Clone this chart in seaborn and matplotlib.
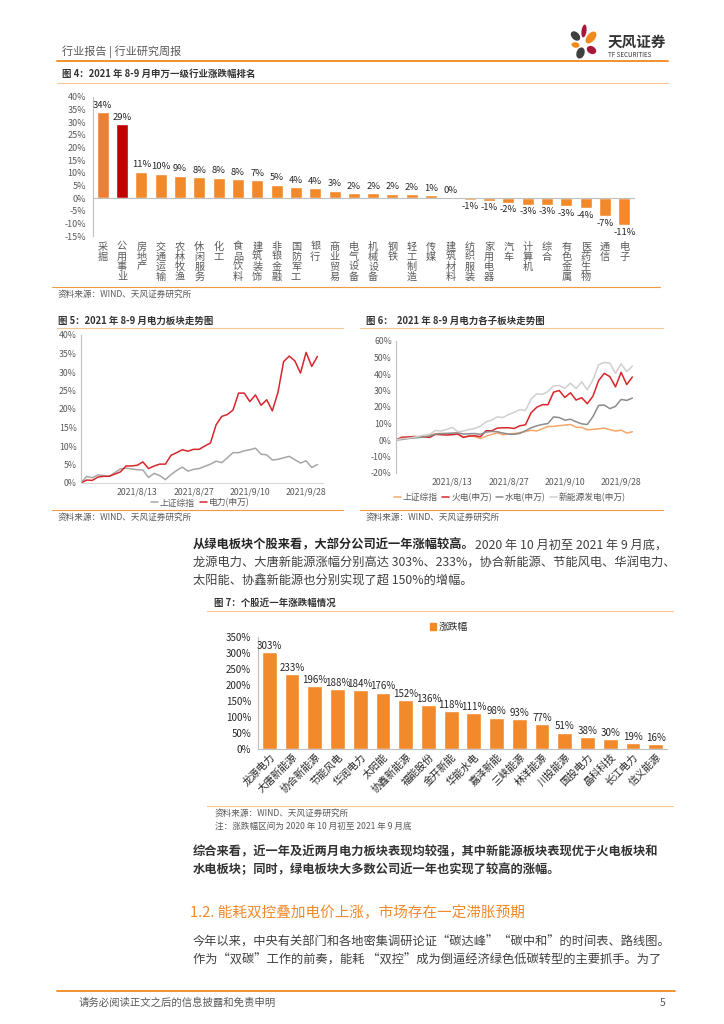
"""Rebuild a report page: industry ranking, power sector trends and stock gains."""

import matplotlib

matplotlib.use("Agg")

import matplotlib.pyplot as plt
import numpy as np
import pandas as pd
import seaborn as sns
from matplotlib.lines import Line2D
from matplotlib.patches import Ellipse, Patch

W, H = 724, 1024

ORANGE = "#F28A2B"
ORANGE_FIRST = "#EC7E36"
DARK_RED = "#C00000"
LINE_ORANGE = "#F39A3E"
LIGHT_LINE = "#F8C597"
TEXT = "#404040"
GREY = "#595959"
AXIS = "#BFBFBF"

# fig 4: Shenwan level-1 industries, Aug-Sep 2021
INDUSTRIES = [
    "采掘", "公用事业", "房地产", "交通运输", "农林牧渔", "休闲服务", "化工",
    "食品饮料", "建筑装饰", "非银金融", "国防军工", "银行", "商业贸易", "电气设备",
    "机械设备", "钢铁", "轻工制造", "传媒", "建筑材料", "纺织服装", "家用电器",
    "汽车", "计算机", "综合", "有色金属", "医药生物", "通信", "电子",
]
INDUSTRY_CHANGE = [
    34.0, 29.3, 10.5, 9.7, 8.9, 8.3, 8.1, 7.6, 7.2, 5.3, 4.3, 3.8, 2.9, 2.1,
    1.9, 1.8, 1.7, 1.2, 0.4, -0.7, -1.0, -1.8, -2.8, -2.8, -3.3, -4.1, -7.2, -10.8,
]
INDUSTRY_TEXT = [
    "34%", "29%", "11%", "10%", "9%", "8%", "8%", "8%", "7%", "5%", "4%", "4%",
    "3%", "2%", "2%", "2%", "2%", "1%", "0%", "-1%", "-1%", "-2%", "-3%", "-3%",
    "-3%", "-4%", "-7%", "-11%",
]

# fig 5 / fig 6: cumulative change since 2021/7/30, one value per trading day
TICK_POS = [10, 20, 30, 40]
TICK_DATES = ["2021/8/13", "2021/8/27", "2021/9/10", "2021/9/28"]
SH_INDEX = [
    0.0, 1.8, 1.4, 2.2, 2.0, 1.8, 2.8, 3.8, 4.0, 3.8, 3.6, 3.5, 1.5, 2.6, 2.0,
    0.9, 2.3, 3.4, 4.3, 3.2, 3.7, 3.9, 4.5, 5.1, 5.9, 5.5, 6.8, 8.2, 8.2, 8.7,
    9.0, 9.4, 7.8, 7.6, 6.2, 6.4, 6.8, 7.2, 6.3, 5.4, 6.0, 4.2, 5.0,
]
POWER = [
    0.0, 0.8, 0.7, 1.6, 1.8, 1.8, 2.4, 3.0, 4.6, 4.6, 4.8, 5.7, 3.9, 4.6, 5.1,
    5.1, 7.5, 8.2, 9.0, 8.6, 9.1, 9.1, 10.0, 10.8, 15.7, 18.0, 18.5, 19.7, 24.3,
    24.3, 22.0, 23.8, 21.0, 22.5, 19.5, 24.5, 32.8, 34.3, 33.0, 29.7, 35.3, 31.5, 34.2,
]
THERMAL = [
    0.0, 1.5, 1.8, 2.0, 2.0, 1.8, 1.6, 3.4, 3.2, 3.0, 3.2, 3.6, 1.6, 2.4, 2.6,
    2.0, 5.6, 5.6, 7.2, 7.4, 7.4, 7.0, 8.6, 9.2, 16.5, 19.8, 21.4, 21.4, 29.0,
    30.0, 25.8, 28.6, 24.2, 25.6, 22.0, 26.6, 36.0, 40.4, 38.4, 32.2, 41.0, 33.6, 38.2,
]
HYDRO = [
    0.0, 0.3, 0.8, 1.2, 1.5, 1.8, 2.5, 3.5, 3.8, 4.0, 4.2, 4.4, 3.6, 3.8, 3.9,
    3.4, 4.8, 5.2, 5.0, 4.2, 3.6, 3.4, 4.0, 5.6, 7.4, 8.6, 9.4, 10.0, 14.0,
    13.6, 12.0, 12.6, 11.0, 9.8, 9.4, 14.2, 21.0, 21.2, 19.0, 20.4, 24.6, 24.0, 25.4,
]
NEW_ENERGY = [
    0.0, 0.8, 1.0, 1.6, 2.2, 3.0, 3.4, 5.8, 5.4, 6.4, 7.6, 5.0, 5.4, 6.4, 7.0,
    8.4, 11.0, 12.0, 14.0, 13.6, 15.4, 16.8, 18.4, 17.8, 24.8, 28.0, 27.6, 29.4,
    32.8, 33.0, 31.4, 34.4, 31.2, 35.2, 30.4, 36.4, 45.6, 47.0, 46.6, 40.4, 46.2,
    41.4, 44.8,
]

# fig 7: one-year change of green power stocks
STOCKS = [
    "龙源电力", "大唐新能源", "协合新能源", "节能风电", "华润电力", "太阳能",
    "协鑫新能源", "福能股份", "金开新能", "华能水电", "嘉泽新能", "三峡能源",
    "林洋能源", "川投能源", "国投电力", "晶科科技", "长江电力", "信义能源",
]
STOCK_CHANGE = [303, 233, 196, 188, 184, 176, 152, 136, 118, 111, 98, 93, 77, 51, 38, 30, 19, 16]


def ax_at(fig, left, top, right, bottom):
    return fig.add_axes([left / W, 1 - bottom / H, (right - left) / W, (bottom - top) / H])


def txt(fig, x, y, s, **kw):
    kw.setdefault("va", "center")
    kw.setdefault("color", TEXT)
    return fig.text(x / W, 1 - y / H, s, **kw)


def hline(fig, x0, x1, y, color=LINE_ORANGE, lw=0.8):
    fig.add_artist(Line2D([x0 / W, x1 / W], [1 - y / H, 1 - y / H], color=color, lw=lw))


def run_text(fig, x, y, parts, size):
    # write pieces of one line after each other (mixed bold / regular)
    renderer = fig.canvas.get_renderer()
    for s, weight, color in parts:
        t = txt(fig, x, y, s, fontsize=size, fontweight=weight, color=color)
        x += t.get_window_extent(renderer).width


def pct(ax):
    ax.yaxis.set_major_formatter(matplotlib.ticker.FuncFormatter(lambda v, _: f"{v:.0f}%"))


def draw_logo(fig):
    ax = ax_at(fig, 566, 22, 604, 60)
    ax.set_xlim(0, 38)
    ax.set_ylim(38, 0)
    ax.set_axis_off()
    petals = [
        (18.0, 9.0, 5.0, 13, 8, "#A8163A"),
        (25.0, 15.5, 8.0, 14, 40, "#EF8A1E"),
        (9.5, 14.0, 7.5, 11, -45, "#404040"),
        (9.5, 23.0, 8.0, 5.5, 10, "#EF8A1E"),
        (25.5, 28.0, 10.0, 7.5, 30, "#A8163A"),
        (14.5, 31.0, 8.0, 11.5, 20, "#404040"),
    ]
    for x, y, w, h, ang, c in petals:
        ax.add_patch(Ellipse((x, y), w, h, angle=ang, color=c, lw=0))


def plot_industry(fig):
    ax = ax_at(fig, 93, 97, 634, 236)
    df = pd.DataFrame({"industry": INDUSTRIES, "change": INDUSTRY_CHANGE})
    colors = [ORANGE_FIRST, DARK_RED] + [ORANGE] * (len(INDUSTRIES) - 2)
    sns.barplot(data=df, x="industry", y="change", hue="industry", palette=colors,
                legend=False, width=0.62, saturation=1, ax=ax)
    ax.set_ylim(-15, 40)
    ax.set_xlim(-0.5, len(INDUSTRIES) - 0.5)
    ax.set_yticks(np.arange(-15, 41, 5))
    pct(ax)
    ax.set_xlabel("")
    ax.set_ylabel("")
    for side in ("top", "right"):
        ax.spines[side].set_visible(False)
    ax.spines["bottom"].set_position(("data", 0))
    for side in ("left", "bottom"):
        ax.spines[side].set_color(AXIS)
        ax.spines[side].set_linewidth(0.8)
    ax.set_xticks([])
    ax.set_xticks(np.arange(-0.5, len(INDUSTRIES), 1), minor=True)
    ax.tick_params(axis="x", which="minor", length=3, color=AXIS, direction="out")
    ax.tick_params(axis="y", length=3, color=AXIS, labelsize=6.5, labelcolor=GREY, pad=2)
    for i, (v, s) in enumerate(zip(INDUSTRY_CHANGE, INDUSTRY_TEXT)):
        if v >= 0:
            ax.text(i, v + 0.9, s, ha="center", va="bottom", fontsize=6.8, color="#262626")
        else:
            ax.text(i, v - 0.9, s, ha="center", va="top", fontsize=6.8, color="#262626")
    tr = ax.get_xaxis_transform()
    for i, name in enumerate(INDUSTRIES):
        ax.text(i, -0.04, "\n".join(name), transform=tr, ha="center", va="top",
                fontsize=7.3, color=GREY, linespacing=1.0)


def style_line_axes(ax, ylim, yticks):
    ax.set_ylim(*ylim)
    ax.set_xlim(0, 43)
    ax.set_yticks(yticks)
    pct(ax)
    ax.set_xticks(TICK_POS)
    ax.set_xticklabels(TICK_DATES)
    ax.set_xlabel("")
    ax.set_ylabel("")
    for side in ("top", "right"):
        ax.spines[side].set_visible(False)
    ax.spines["left"].set_color(AXIS)
    ax.spines["left"].set_linewidth(0.8)
    ax.tick_params(axis="both", length=0, labelsize=6.3, labelcolor=GREY, pad=3)


def plot_power(fig):
    ax = ax_at(fig, 81, 335, 323, 483)
    df = pd.DataFrame({"day": np.arange(len(SH_INDEX)), "上证综指": SH_INDEX, "电力(申万)": POWER})
    df = df.melt(id_vars="day", var_name="series", value_name="value")
    sns.lineplot(data=df, x="day", y="value", hue="series",
                 palette=["#A6A6A6", "#D7262B"], linewidth=1.1, ax=ax)
    style_line_axes(ax, (0, 40), np.arange(0, 41, 5))
    ax.spines["bottom"].set_color("#D9D9D9")
    ax.spines["bottom"].set_linewidth(0.8)
    handles, labels = ax.get_legend_handles_labels()
    ax.legend(handles, labels, loc="center", bbox_to_anchor=(200 / W, 1 - 503 / H),
              bbox_transform=fig.transFigure, ncol=2, frameon=False, fontsize=6.3,
              handlelength=0.8, handletextpad=0.2, columnspacing=0.6, labelcolor=GREY)


def plot_power_sub(fig):
    ax = ax_at(fig, 396, 341, 638, 473)
    df = pd.DataFrame({
        "day": np.arange(len(SH_INDEX)),
        "上证综指": SH_INDEX,
        "火电(申万)": THERMAL,
        "水电(申万)": HYDRO,
        "新能源发电(申万)": NEW_ENERGY,
    }).melt(id_vars="day", var_name="series", value_name="value")
    sns.lineplot(data=df, x="day", y="value", hue="series",
                 palette=["#F5A66A", "#D7262B", "#8C8C8C", "#CFCFCF"], linewidth=1.1, ax=ax)
    style_line_axes(ax, (-20, 60), np.arange(-20, 61, 10))
    ax.spines["bottom"].set_visible(False)
    handles, labels = ax.get_legend_handles_labels()
    ax.legend(handles, labels, loc="center", bbox_to_anchor=(510 / W, 1 - 497 / H),
              bbox_transform=fig.transFigure, ncol=4, frameon=False, fontsize=6.3,
              handlelength=0.8, handletextpad=0.2, columnspacing=0.5, labelcolor=GREY)


def plot_stocks(fig):
    ax = ax_at(fig, 258, 637, 667, 749)
    df = pd.DataFrame({"stock": STOCKS, "change": STOCK_CHANGE, "series": "涨跌幅"})
    sns.barplot(data=df, x="stock", y="change", hue="series", palette=[ORANGE],
                width=0.65, saturation=1, ax=ax)
    ax.set_ylim(0, 350)
    ax.set_xlim(-0.5, len(STOCKS) - 0.5)
    ax.set_yticks(np.arange(0, 351, 50))
    pct(ax)
    ax.set_xlabel("")
    ax.set_ylabel("")
    for side in ("top", "right"):
        ax.spines[side].set_visible(False)
    for side in ("left", "bottom"):
        ax.spines[side].set_color(AXIS)
        ax.spines[side].set_linewidth(0.8)
    ax.tick_params(axis="y", length=3, color=AXIS, labelsize=7, labelcolor="#262626", pad=2)
    ax.tick_params(axis="x", length=0, pad=2)
    ax.set_xticks(range(len(STOCKS)))
    ax.set_xticklabels(STOCKS, rotation=45, ha="right", va="top", rotation_mode="anchor",
                       fontsize=7.3, color="#262626")
    for i, v in enumerate(STOCK_CHANGE):
        ax.text(i, v + 4, f"{v}%", ha="center", va="bottom", fontsize=7, color="#262626")
    ax.legend(handles=[Patch(color=ORANGE, label="涨跌幅")], loc="center",
              bbox_to_anchor=(449 / W, 1 - 627 / H), bbox_transform=fig.transFigure,
              frameon=False, fontsize=7, handlelength=0.6, handleheight=0.6,
              handletextpad=0.3, labelcolor="#262626")


def main():
    sns.set_theme(style="white")
    plt.rcParams["font.family"] = ["Noto Sans CJK SC", "DejaVu Sans"]
    plt.rcParams["axes.unicode_minus"] = False

    fig = plt.figure(figsize=(W / 100, H / 100), dpi=100)
    fig.patch.set_facecolor("white")

    # header
    txt(fig, 62, 52, "行业报告 | 行业研究周报", fontsize=8, color=GREY)
    hline(fig, 57, 668, 61, color="#EF8A1E", lw=1.3)
    draw_logo(fig)
    txt(fig, 608, 42, "天风证券", fontsize=10.5, fontweight="bold", color="#333333")
    txt(fig, 608, 55, "TF SECURITIES", fontsize=4.5, color="#333333")

    # fig 4
    txt(fig, 62, 74, "图 4：2021 年 8-9 月申万一级行业涨跌幅排名", fontsize=6.8,
        fontweight="bold", color="#333333")
    hline(fig, 57, 668, 83, color=LIGHT_LINE)
    plot_industry(fig)
    hline(fig, 52, 660, 287)
    txt(fig, 58, 294, "资料来源：WIND、天风证券研究所", fontsize=6.2, color=GREY)

    # fig 5 and 6
    txt(fig, 58, 321, "图 5：2021 年 8-9 月电力板块走势图", fontsize=6.8,
        fontweight="bold", color="#333333")
    hline(fig, 57, 343, 328, color=LIGHT_LINE)
    plot_power(fig)
    hline(fig, 52, 343, 510)
    txt(fig, 58, 517, "资料来源：WIND、天风证券研究所", fontsize=6.2, color=GREY)

    txt(fig, 366, 321, "图 6：  2021 年 8-9 月电力各子板块走势图", fontsize=6.8,
        fontweight="bold", color="#333333")
    hline(fig, 360, 663, 328, color=LIGHT_LINE)
    plot_power_sub(fig)
    hline(fig, 360, 663, 510)
    txt(fig, 366, 517, "资料来源：WIND、天风证券研究所", fontsize=6.2, color=GREY)

    # paragraph 1
    run_text(fig, 193, 545, [
        ("从绿电板块个股来看，大部分公司近一年涨幅较高。", "bold", "#262626"),
        ("2020 年 10 月初至 2021 年 9 月底，", "normal", TEXT),
    ], 8.8)
    txt(fig, 193, 563, "龙源电力、大唐新能源涨幅分别高达 303%、233%，协合新能源、节能风电、华润电力、",
        fontsize=8.8)
    txt(fig, 193, 581, "太阳能、协鑫新能源也分别实现了超 150%的增幅。", fontsize=8.8)

    # fig 7
    txt(fig, 214, 603, "图 7：个股近一年涨跌幅情况", fontsize=6.8, fontweight="bold", color="#333333")
    hline(fig, 207, 673, 611, color=LIGHT_LINE)
    plot_stocks(fig)
    hline(fig, 207, 673, 806, color=LIGHT_LINE)
    txt(fig, 215, 813, "资料来源：WIND、天风证券研究所", fontsize=6.2, color=GREY)
    txt(fig, 215, 826, "注：涨跌幅区间为 2020 年 10 月初至 2021 年 9 月底", fontsize=6.2, color=GREY)

    # paragraph 2
    txt(fig, 193, 852, "综合来看，近一年及近两月电力板块表现均较强，其中新能源板块表现优于火电板块和",
        fontsize=8.8, fontweight="bold", color="#333333")
    txt(fig, 193, 870, "水电板块；同时，绿电板块大多数公司近一年也实现了较高的涨幅。",
        fontsize=8.8, fontweight="bold", color="#333333")

    # section heading and paragraph 3
    txt(fig, 190, 913, "1.2. 能耗双控叠加电价上涨，市场存在一定滞胀预期", fontsize=10.5,
        color="#F0892A")
    txt(fig, 193, 942, "今年以来，中央有关部门和各地密集调研论证“碳达峰”“碳中和”的时间表、路线图。",
        fontsize=8.8)
    txt(fig, 193, 960, "作为“双碳”工作的前奏，能耗 “双控”成为倒逼经济绿色低碳转型的主要抓手。为了",
        fontsize=8.8)

    # footer
    hline(fig, 57, 675, 991, color="#EF8A1E", lw=1.3)
    txt(fig, 79, 1003, "请务必阅读正文之后的信息披露和免责申明", fontsize=7.5, color=GREY)
    txt(fig, 665, 1003, "5", fontsize=7.5, color=GREY, ha="right")

    fig.savefig("out.png", dpi=100)
    plt.close(fig)


if __name__ == "__main__":
    main()
